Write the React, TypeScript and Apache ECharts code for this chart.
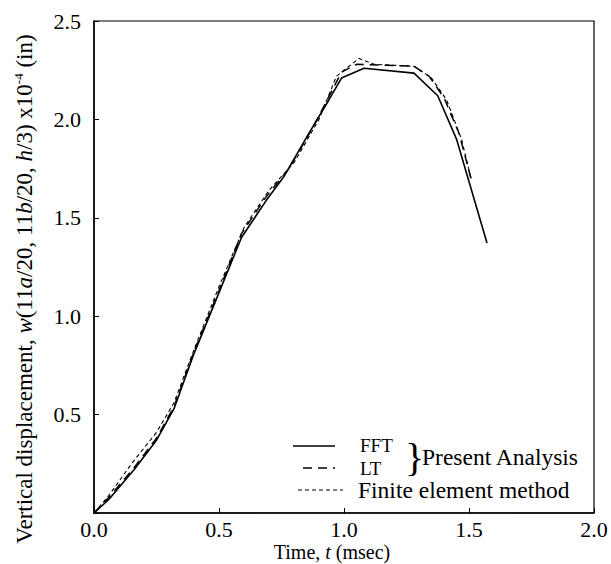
import React, { useEffect, useRef } from "react";
import * as echarts from "echarts";

const FFT_T = [0, 0.06, 0.16, 0.25, 0.32, 0.40, 0.50, 0.59, 0.69, 0.76, 0.86, 0.94, 0.99, 1.08, 1.28, 1.375, 1.45, 1.572];
const FFT_W = [0, 0.07, 0.22, 0.37, 0.53, 0.81, 1.12, 1.40, 1.59, 1.71, 1.93, 2.10, 2.21, 2.26, 2.235, 2.12, 1.90, 1.372];

const LT_T = [0, 0.06, 0.16, 0.25, 0.32, 0.40, 0.50, 0.59, 0.69, 0.78, 0.88, 0.99, 1.05, 1.28, 1.34, 1.40, 1.46, 1.51];
const LT_W = [0, 0.08, 0.23, 0.38, 0.54, 0.82, 1.13, 1.42, 1.61, 1.75, 1.97, 2.24, 2.28, 2.27, 2.22, 2.11, 1.93, 1.69];

const FEM_T = [0, 0.06, 0.15, 0.25, 0.32, 0.40, 0.50, 0.60, 0.70, 0.80, 0.90, 0.97, 1.06, 1.12, 1.28, 1.35, 1.41, 1.47, 1.51];
const FEM_W = [0, 0.09, 0.25, 0.41, 0.56, 0.83, 1.15, 1.45, 1.64, 1.78, 2.00, 2.22, 2.31, 2.28, 2.27, 2.21, 2.10, 1.90, 1.69];

const SERIES_NAMES = ["FFT", "LT", "Finite element method"];
const GROUP_LABEL = "Present Analysis";
const X_NAME = "{n|Time, }{i|t}{n| (msec)}";
const Y_NAME =
  "{n|Vertical displacement, }{i|w}{n|(11}{i|a}{n|/20, 11}{i|b}{n|/20, }{i|h}{n|/3) x10}{s|-4}{n| (in)}";

const FONT = "Liberation Serif";

function pairs(t: number[], w: number[]) {
  return t.map((v, i) => [v, w[i]]);
}

export default function App() {
  const ref = useRef<HTMLDivElement>(null);
  useEffect(() => {
    if (!ref.current) return;
    const chart = echarts.init(ref.current, null, { renderer: "svg" });
    const txt = { fontFamily: FONT, color: "#000", fontSize: 22 };
    const nameRich = (size: number) => ({
      n: { fontFamily: FONT, fontSize: size, fill: "#000", color: "#000" },
      i: { fontFamily: FONT, fontSize: size, fill: "#000", color: "#000", fontStyle: "italic" },
      s: { fontFamily: FONT, fontSize: 13, fill: "#000", color: "#000", padding: [0, 0, 12, 0] },
    });
    const option: any = {
      animation: false,
      backgroundColor: "#fff",
      grid: { left: 94, right: 17, top: 21, bottom: 51, show: true, borderColor: "#000", borderWidth: 1.2 },
      xAxis: {
        type: "value",
        min: 0,
        max: 2,
        interval: 0.5,
        axisLine: { show: true, lineStyle: { color: "#000", width: 1.5 } },
        axisTick: { show: true, inside: true, length: 5, lineStyle: { color: "#000" } },
        splitLine: { show: false },
        axisLabel: { ...txt, margin: 5, formatter: (v: number) => v.toFixed(1) },
      },
      yAxis: {
        type: "value",
        min: 0,
        max: 2.5,
        interval: 0.5,
        axisLine: { show: true, lineStyle: { color: "#000", width: 1.5 } },
        axisTick: { show: true, inside: true, length: 5, lineStyle: { color: "#000" } },
        splitLine: { show: false },
        axisLabel: { ...txt, margin: 13, formatter: (v: number) => (v === 0 ? "" : v.toFixed(1)) },
      },
      series: [
        {
          name: SERIES_NAMES[0],
          type: "line",
          data: pairs(FFT_T, FFT_W),
          showSymbol: false,
          lineStyle: { color: "#000", width: 1.6, type: "solid" },
          z: 3,
        },
        {
          name: SERIES_NAMES[1],
          type: "line",
          data: pairs(LT_T, LT_W),
          showSymbol: false,
          lineStyle: { color: "#000", width: 1.5, type: [9, 6] },
          z: 2,
        },
        {
          name: SERIES_NAMES[2],
          type: "line",
          data: pairs(FEM_T, FEM_W),
          showSymbol: false,
          lineStyle: { color: "#000", width: 1.1, type: [4, 3] },
          z: 1,
        },
      ],
      graphic: [
        {
          type: "text",
          x: 24,
          y: 289,
          rotation: Math.PI / 2,
          style: { text: Y_NAME, rich: nameRich(23), align: "center", verticalAlign: "middle", fill: "#000", font: `23px "${FONT}"` },
        },
        {
          type: "text",
          x: 332,
          y: 552,
          style: { text: X_NAME, rich: nameRich(20), align: "center", verticalAlign: "middle", fill: "#000", font: `20px "${FONT}"` },
        },
        { type: "line", shape: { x1: 293, y1: 446, x2: 335, y2: 446 }, style: { stroke: "#000", lineWidth: 1.4 } },
        { type: "line", shape: { x1: 303, y1: 468, x2: 335, y2: 468 }, style: { stroke: "#000", lineWidth: 1.4, lineDash: [9, 6] } },
        { type: "line", shape: { x1: 298, y1: 490, x2: 343, y2: 490 }, style: { stroke: "#000", lineWidth: 1.1, lineDash: [4, 3] } },
        { type: "text", x: 360, y: 445, style: { text: SERIES_NAMES[0], font: `19px "${FONT}"`, fill: "#000", verticalAlign: "middle" } },
        { type: "text", x: 360, y: 468, style: { text: SERIES_NAMES[1], font: `19px "${FONT}"`, fill: "#000", verticalAlign: "middle" } },
        { type: "text", x: 405, y: 457, style: { text: "}", font: `40px "${FONT}"`, fill: "#000", verticalAlign: "middle" } },
        { type: "text", x: 422, y: 457, style: { text: GROUP_LABEL, font: `23.5px "${FONT}"`, fill: "#000", verticalAlign: "middle" } },
        { type: "text", x: 358, y: 490, style: { text: SERIES_NAMES[2], font: `23.5px "${FONT}"`, fill: "#000", verticalAlign: "middle" } },
      ],
    };
    chart.setOption(option);
    return () => chart.dispose();
  }, []);
  return (
    <div
      ref={ref}
      style={{ position: "fixed", left: 0, top: 0, width: 611, height: 564, background: "#fff" }}
    />
  );
}
